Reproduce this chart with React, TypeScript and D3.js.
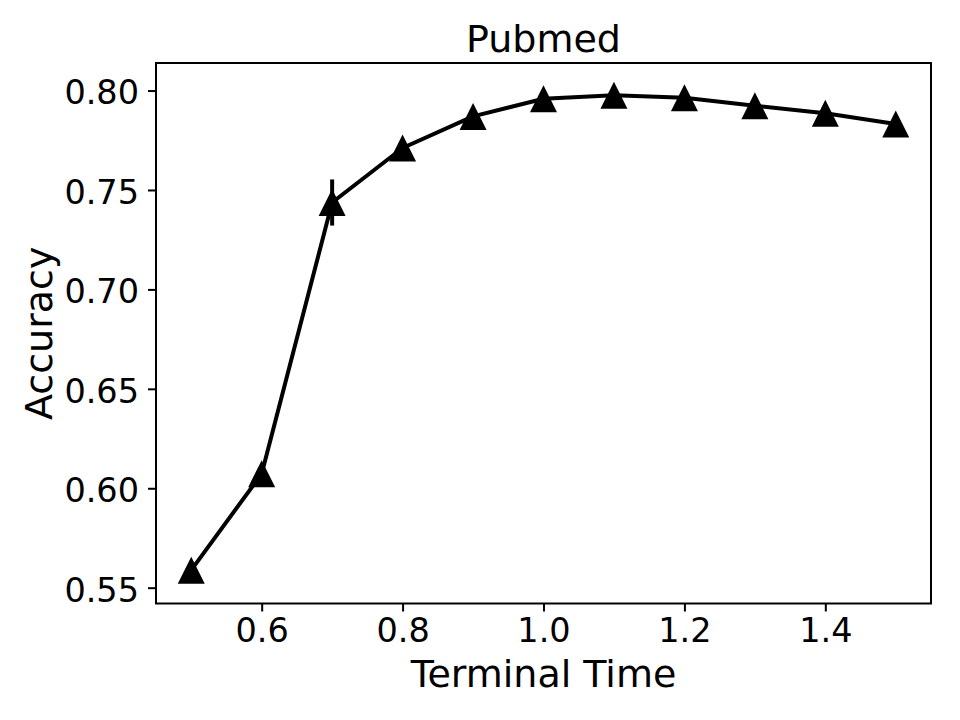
import { useEffect, useRef } from "react"
import * as d3 from "d3"

// terminal time vs. accuracy (mean ± std)
const times = [0.5, 0.6, 0.7, 0.8, 0.9, 1.0, 1.1, 1.2, 1.3, 1.4, 1.5]
const accuracy = [0.5588, 0.6073, 0.7437, 0.7711, 0.7870, 0.7959, 0.7976, 0.7964, 0.7924, 0.7886, 0.7832]
const stdDev = [0.0044, 0.003, 0.0116, 0.002, 0.002, 0.002, 0.0039, 0.002, 0.002, 0.002, 0.002]
const xTicks = [0.6, 0.8, 1.0, 1.2, 1.4]
const yTicks = [0.55, 0.6, 0.65, 0.7, 0.75, 0.8]

export default function App() {
  const svgRef = useRef<SVGSVGElement>(null)

  useEffect(() => {
    if (!svgRef.current) return
    const svg = d3.select(svgRef.current)
    svg.selectAll("*").remove()

    const width = 960
    const height = 720
    const margin = { top: 63, right: 29, bottom: 116.5, left: 156 }
    const innerWidth = width - margin.left - margin.right
    const innerHeight = height - margin.top - margin.bottom
    const font = "'DejaVu Sans', sans-serif"

    // 5% padding around the data like matplotlib's autoscale
    const lo = d3.min(accuracy.map((a, i) => a - stdDev[i])) as number
    const hi = d3.max(accuracy.map((a, i) => a + stdDev[i])) as number
    const yPad = (hi - lo) * 0.05

    const xScale = d3.scaleLinear().domain([0.45, 1.55]).range([0, innerWidth])
    const yScale = d3.scaleLinear().domain([lo - yPad, hi + yPad]).range([innerHeight, 0])

    svg.append("rect").attr("width", width).attr("height", height).attr("fill", "white")

    const g = svg.append("g").attr("transform", `translate(${margin.left}, ${margin.top})`)

    // x axis
    const xAxis = d3
      .axisBottom(xScale)
      .tickValues(xTicks)
      .tickFormat((d) => d3.format(".1f")(+d))
      .tickSize(8)
      .tickPadding(8)
    const xg = g.append("g").attr("transform", `translate(0, ${innerHeight})`).call(xAxis)
    xg.select(".domain").remove()
    xg.selectAll(".tick line").attr("stroke", "#000").attr("stroke-width", 2)
    xg.selectAll(".tick text")
      .attr("fill", "#000")
      .attr("font-family", font)
      .attr("font-size", 33.5)
      .attr("dy", "0.68em")

    // y axis
    const yAxis = d3
      .axisLeft(yScale)
      .tickValues(yTicks)
      .tickFormat((d) => d3.format(".2f")(+d))
      .tickSize(8)
      .tickPadding(9)
    const yg = g.append("g").call(yAxis)
    yg.select(".domain").remove()
    yg.selectAll(".tick line").attr("stroke", "#000").attr("stroke-width", 2)
    yg.selectAll(".tick text")
      .attr("fill", "#000")
      .attr("font-family", font)
      .attr("font-size", 33.5)
      .attr("dy", "0.4em")

    // axes frame
    g.append("rect")
      .attr("width", innerWidth)
      .attr("height", innerHeight)
      .attr("fill", "none")
      .attr("stroke", "#000")
      .attr("stroke-width", 2)

    // line
    const line = d3
      .line<number>()
      .x((_, i) => xScale(times[i]))
      .y((d) => yScale(d))
    g.append("path")
      .datum(accuracy)
      .attr("d", line)
      .attr("fill", "none")
      .attr("stroke", "#000")
      .attr("stroke-width", 4)
      .attr("stroke-linejoin", "round")

    // error bars
    g.selectAll("line.err")
      .data(accuracy)
      .join("line")
      .attr("class", "err")
      .attr("x1", (_, i) => xScale(times[i]))
      .attr("x2", (_, i) => xScale(times[i]))
      .attr("y1", (d, i) => yScale(d - stdDev[i]))
      .attr("y2", (d, i) => yScale(d + stdDev[i]))
      .attr("stroke", "#000")
      .attr("stroke-width", 4)

    // triangle markers
    const s = 13.5
    g.selectAll("path.marker")
      .data(accuracy)
      .join("path")
      .attr("class", "marker")
      .attr("transform", (d, i) => `translate(${xScale(times[i])}, ${yScale(d)})`)
      .attr("d", `M0,${-s}L${-s},${s}L${s},${s}Z`)
      .attr("fill", "#000")

    // title and axis labels
    svg.append("text")
      .attr("x", margin.left + innerWidth / 2)
      .attr("y", 51.5)
      .attr("text-anchor", "middle")
      .attr("font-family", font)
      .attr("font-size", 38)
      .attr("fill", "#000")
      .text("Pubmed")

    svg.append("text")
      .attr("x", margin.left + innerWidth / 2)
      .attr("y", 687)
      .attr("text-anchor", "middle")
      .attr("font-family", font)
      .attr("font-size", 38)
      .attr("fill", "#000")
      .text("Terminal Time")

    svg.append("text")
      .attr("transform", `translate(52, ${margin.top + innerHeight / 2}) rotate(-90)`)
      .attr("text-anchor", "middle")
      .attr("font-family", font)
      .attr("font-size", 38)
      .attr("fill", "#000")
      .text("Accuracy")
  }, [])

  return (
    <svg
      ref={svgRef}
      width={960}
      height={720}
      style={{ position: "absolute", left: 0, top: 0, display: "block" }}
    />
  )
}
